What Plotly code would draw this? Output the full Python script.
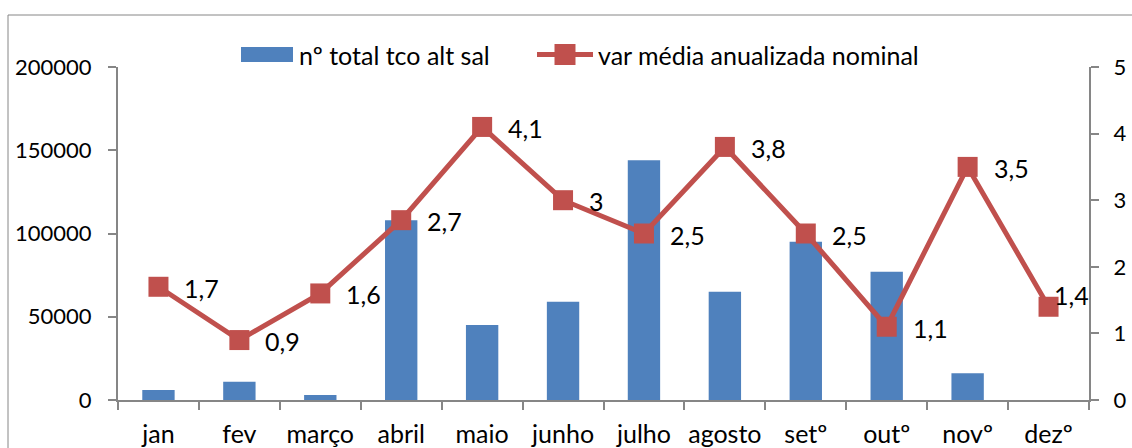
import plotly.graph_objects as go

months = ["jan", "fev", "março", "abril", "maio", "junho", "julho", "agosto", "setº", "outº", "novº", "dezº"]
total_tco = [6000, 11000, 3000, 108000, 45000, 59000, 144000, 65000, 95000, 77000, 16000, 0]
var_media = [1.7, 0.9, 1.6, 2.7, 4.1, 3.0, 2.5, 3.8, 2.5, 1.1, 3.5, 1.4]
bar_name = "nº total tco alt sal"
line_name = "var média anualizada nominal"

BLUE = "#4F81BD"
RED = "#C0504D"
AXIS = "#868686"
FONT = "Lato"
FS = 25      # text size
FS_NUM = 22  # y tick digits

fig = go.Figure()
fig.add_trace(go.Bar(x=months, y=total_tco, name=bar_name, marker=dict(color=BLUE, line=dict(width=0)),
                     width=0.4, yaxis="y", showlegend=False))
fig.add_trace(go.Scatter(x=months, y=var_media, name=line_name, mode="lines+markers",
                         line=dict(color=RED, width=5),
                         marker=dict(symbol="square", size=20, color=RED),
                         yaxis="y2", showlegend=False))

def fmt(v):
    s = ("%.1f" % v).rstrip("0").rstrip(".")
    return s.replace(".", ",")

annotations = []
for i, (m, v) in enumerate(zip(months, var_media)):
    last = i == len(months) - 1
    annotations.append(dict(x=m, y=v, xref="x", yref="y2", text=fmt(v), showarrow=False,
                            xanchor="left", yanchor="middle",
                            xshift=3 if last else 24, yshift=12 if last else -1,
                            font=dict(family=FONT, size=FS, color="#000000")))

# custom legend (pixel -> paper conversion)
L, R, T, B = 118, 1089, 67, 400
def px(x):
    return (x - L) / (R - L)
def py(y):
    return (B - y) / (B - T)

annotations.append(dict(x=px(297), y=py(54.5), xref="paper", yref="paper", text=bar_name, showarrow=False,
                        xanchor="left", yanchor="middle", font=dict(family=FONT, size=FS, color="#000000")))
annotations.append(dict(x=px(596), y=py(54.5), xref="paper", yref="paper", text=line_name, showarrow=False,
                        xanchor="left", yanchor="middle", font=dict(family=FONT, size=FS, color="#000000")))

shapes = [
    dict(type="rect", xref="paper", yref="paper", x0=px(8), x1=px(1150), y0=py(470), y1=py(15),
         line=dict(color=AXIS, width=1), fillcolor="rgba(0,0,0,0)", layer="below"),
    dict(type="rect", xref="paper", yref="paper", x0=px(241), x1=px(293), y0=py(62), y1=py(47),
         line=dict(width=0), fillcolor=BLUE),
    dict(type="line", xref="paper", yref="paper", x0=px(537), x1=px(593), y0=py(54.5), y1=py(54.5),
         line=dict(color=RED, width=5)),
    dict(type="rect", xref="paper", yref="paper", x0=px(554.5), x1=px(575.5), y0=py(65), y1=py(44),
         line=dict(width=0), fillcolor=RED),
]

fig.update_layout(
    width=1132, height=448,
    margin=dict(l=L, r=1132 - R, t=T, b=448 - B, autoexpand=False),
    paper_bgcolor="white", plot_bgcolor="white",
    font=dict(family=FONT, size=FS, color="#000000"),
    bargap=0.6,
    xaxis=dict(type="category", range=[-0.5, len(months) - 0.5], showgrid=False, showline=True,
               linecolor=AXIS, linewidth=2, tickangle=0,
               ticks="outside", ticklen=8, tickcolor=AXIS, tickwidth=2, tickson="boundaries",
               tickfont=dict(family=FONT, size=FS), ticklabelstandoff=11),
    yaxis=dict(range=[0, 200000], dtick=50000, showgrid=False, zeroline=False, showline=True,
               linecolor=AXIS, linewidth=2, ticks="outside", ticklen=8, tickcolor=AXIS, tickwidth=2,
               tickformat="d", tickfont=dict(family=FONT, size=FS_NUM), ticklabelstandoff=12),
    yaxis2=dict(range=[0, 5], dtick=1, overlaying="y", side="right", showgrid=False, zeroline=False,
                showline=True, linecolor=AXIS, linewidth=2, ticks="outside", ticklen=8, tickcolor=AXIS,
                tickwidth=2, tickfont=dict(family=FONT, size=FS_NUM), ticklabelstandoff=10),
    annotations=annotations,
    shapes=shapes,
)

fig.write_html("out.html", config={"displayModeBar": False},
               post_script="document.body.style.margin='0';document.body.style.overflow='hidden';")
